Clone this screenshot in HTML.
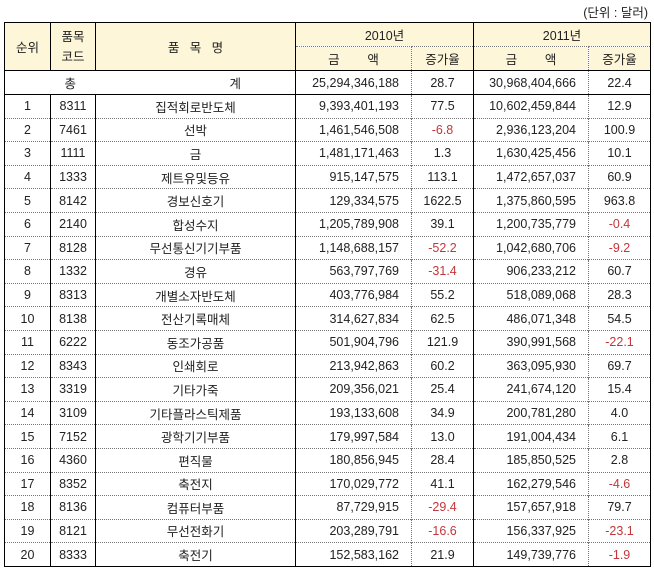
<!DOCTYPE html>
<html><head><meta charset="utf-8"><style>
body{margin:0;width:654px;height:571px;background:#fff;font-family:"Liberation Sans","Noto Sans CJK KR",sans-serif;font-size:12.5px;color:#222;position:relative;overflow:hidden}
.unit{position:absolute;right:6px;top:2px;font-size:12.5px}
table{position:absolute;left:4px;top:22px;border-collapse:collapse;table-layout:fixed;border:1.5px solid #000}
td{padding:0;text-align:center;border-left:1px solid #000;border-top:1px dotted #777;white-space:nowrap;overflow:hidden;box-sizing:border-box}
td.r{text-align:right;padding-right:12px}
td.d{border-left:1px dotted #777}
tr.h td{background:#fdf6d8;height:24px}
tr.t td{height:24px;border-top:1px solid #000}
tr.b td{height:23.6px}
tr.b1 td{border-top:1px solid #000}
tr.h2 td{border-top:1px dotted #777}
.n{color:#c4363a}
.code{line-height:20px}
</style></head><body>
<div class="unit">(단위 : 달러)</div>
<table>
<colgroup><col style="width:46px"><col style="width:45px"><col style="width:200px"><col style="width:116px"><col style="width:62px"><col style="width:115px"><col style="width:62px"></colgroup>
<tr class="h"><td rowspan="2">순위</td><td rowspan="2" class="code">품목<br>코드</td><td rowspan="2">품 &nbsp;&nbsp;목 &nbsp;&nbsp;명</td><td colspan="2">2010년</td><td colspan="2">2011년</td></tr>
<tr class="h h2"><td>금 &nbsp;&nbsp;&nbsp;&nbsp;&nbsp;&nbsp;&nbsp;액</td><td class="d">증가율</td><td>금 &nbsp;&nbsp;&nbsp;&nbsp;&nbsp;&nbsp;&nbsp;액</td><td class="d">증가율</td></tr>
<tr class="t"><td colspan="3" style="text-align:left"><span style="display:inline-block;width:71px;text-align:right">총</span><span style="display:inline-block;width:165px;text-align:right">계</span></td><td class="r">25,294,346,188</td><td class="d">28.7</td><td class="r">30,968,404,666</td><td class="d">22.4</td></tr>
<tr class="b b1"><td>1</td><td>8311</td><td>집적회로반도체</td><td class="r">9,393,401,193</td><td class="d">77.5</td><td class="r">10,602,459,844</td><td class="d">12.9</td></tr>
<tr class="b"><td>2</td><td>7461</td><td>선박</td><td class="r">1,461,546,508</td><td class="d n">-6.8</td><td class="r">2,936,123,204</td><td class="d">100.9</td></tr>
<tr class="b"><td>3</td><td>1111</td><td>금</td><td class="r">1,481,171,463</td><td class="d">1.3</td><td class="r">1,630,425,456</td><td class="d">10.1</td></tr>
<tr class="b"><td>4</td><td>1333</td><td>제트유및등유</td><td class="r">915,147,575</td><td class="d">113.1</td><td class="r">1,472,657,037</td><td class="d">60.9</td></tr>
<tr class="b"><td>5</td><td>8142</td><td>경보신호기</td><td class="r">129,334,575</td><td class="d">1622.5</td><td class="r">1,375,860,595</td><td class="d">963.8</td></tr>
<tr class="b"><td>6</td><td>2140</td><td>합성수지</td><td class="r">1,205,789,908</td><td class="d">39.1</td><td class="r">1,200,735,779</td><td class="d n">-0.4</td></tr>
<tr class="b"><td>7</td><td>8128</td><td>무선통신기기부품</td><td class="r">1,148,688,157</td><td class="d n">-52.2</td><td class="r">1,042,680,706</td><td class="d n">-9.2</td></tr>
<tr class="b"><td>8</td><td>1332</td><td>경유</td><td class="r">563,797,769</td><td class="d n">-31.4</td><td class="r">906,233,212</td><td class="d">60.7</td></tr>
<tr class="b"><td>9</td><td>8313</td><td>개별소자반도체</td><td class="r">403,776,984</td><td class="d">55.2</td><td class="r">518,089,068</td><td class="d">28.3</td></tr>
<tr class="b"><td>10</td><td>8138</td><td>전산기록매체</td><td class="r">314,627,834</td><td class="d">62.5</td><td class="r">486,071,348</td><td class="d">54.5</td></tr>
<tr class="b"><td>11</td><td>6222</td><td>동조가공품</td><td class="r">501,904,796</td><td class="d">121.9</td><td class="r">390,991,568</td><td class="d n">-22.1</td></tr>
<tr class="b"><td>12</td><td>8343</td><td>인쇄회로</td><td class="r">213,942,863</td><td class="d">60.2</td><td class="r">363,095,930</td><td class="d">69.7</td></tr>
<tr class="b"><td>13</td><td>3319</td><td>기타가죽</td><td class="r">209,356,021</td><td class="d">25.4</td><td class="r">241,674,120</td><td class="d">15.4</td></tr>
<tr class="b"><td>14</td><td>3109</td><td>기타플라스틱제품</td><td class="r">193,133,608</td><td class="d">34.9</td><td class="r">200,781,280</td><td class="d">4.0</td></tr>
<tr class="b"><td>15</td><td>7152</td><td>광학기기부품</td><td class="r">179,997,584</td><td class="d">13.0</td><td class="r">191,004,434</td><td class="d">6.1</td></tr>
<tr class="b"><td>16</td><td>4360</td><td>편직물</td><td class="r">180,856,945</td><td class="d">28.4</td><td class="r">185,850,525</td><td class="d">2.8</td></tr>
<tr class="b"><td>17</td><td>8352</td><td>축전지</td><td class="r">170,029,772</td><td class="d">41.1</td><td class="r">162,279,546</td><td class="d n">-4.6</td></tr>
<tr class="b"><td>18</td><td>8136</td><td>컴퓨터부품</td><td class="r">87,729,915</td><td class="d n">-29.4</td><td class="r">157,657,918</td><td class="d">79.7</td></tr>
<tr class="b"><td>19</td><td>8121</td><td>무선전화기</td><td class="r">203,289,791</td><td class="d n">-16.6</td><td class="r">156,337,925</td><td class="d n">-23.1</td></tr>
<tr class="b"><td>20</td><td>8333</td><td>축전기</td><td class="r">152,583,162</td><td class="d">21.9</td><td class="r">149,739,776</td><td class="d n">-1.9</td></tr>
</table>
</body></html>
